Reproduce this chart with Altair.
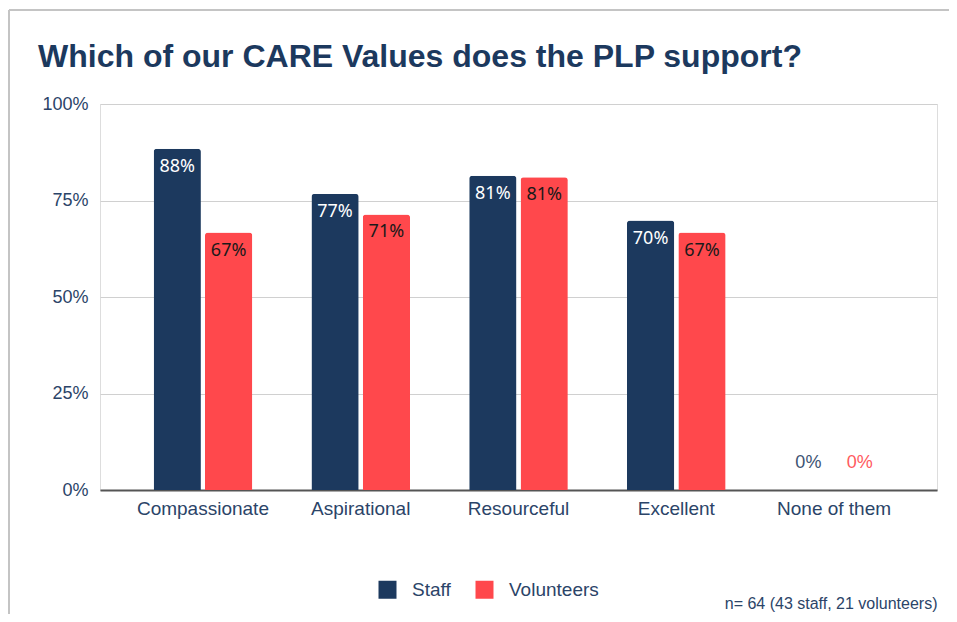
import altair as alt
import pandas as pd

categories = ["Compassionate", "Aspirational", "Resourceful", "Excellent", "None of them"]
series = ["Staff", "Volunteers"]
staff = [0.884, 0.767, 0.814, 0.698, 0.0]
volunteers = [0.667, 0.714, 0.810, 0.667, 0.0]
y_ticks = [0, 0.25, 0.5, 0.75, 1.0]
colors = ["#1c395e", "#ff484c"]
title_text = "Which of our CARE Values does the PLP support?"
footnote = "n= 64 (43 staff, 21 volunteers)"

rows = []
for c, s, v in zip(categories, staff, volunteers):
    rows.append({"category": c, "series": "Staff", "value": s})
    rows.append({"category": c, "series": "Volunteers", "value": v})
df = pd.DataFrame(rows)

NAVY = "#2b4468"
FONT = "Liberation Sans"

x_enc = alt.X(
    "category:N",
    sort=categories,
    scale=alt.Scale(paddingInner=0.375, paddingOuter=0.34),
    axis=alt.Axis(
        title=footnote,
        labelAngle=0,
        labelFontSize=19,
        labelColor=NAVY,
        labelFont=FONT,
        labelPadding=9,
        ticks=False,
        domainColor="#555555",
        domainWidth=2,
        titleX=837,
        titleY=118,
        titleAlign="right",
        titleAnchor="end",
        titleBaseline="alphabetic",
        titleFontSize=16,
        titleFontWeight="normal",
        titleColor=NAVY,
        titleFont=FONT,
    ),
)
xoff = alt.XOffset("series:N", sort=series, scale=alt.Scale(paddingInner=0.08, paddingOuter=0))
y_enc = alt.Y(
    "value:Q",
    scale=alt.Scale(domain=[0, 1]),
    axis=alt.Axis(
        title=None,
        values=y_ticks,
        format=".0%",
        labelFontSize=18,
        labelColor=NAVY,
        labelFont=FONT,
        labelPadding=12,
        ticks=False,
        domain=False,
        gridColor="#d0d0d0",
        gridWidth=1,
    ),
)

bars = alt.Chart(df).mark_bar(cornerRadiusTopLeft=3, cornerRadiusTopRight=3).encode(
    x=x_enc,
    xOffset=xoff,
    y=y_enc,
    color=alt.Color(
        "series:N",
        sort=series,
        scale=alt.Scale(domain=series, range=colors),
        legend=alt.Legend(
            title=None,
            orient="none",
            legendX=278,
            legendY=476,
            direction="horizontal",
            symbolType="square",
            symbolSize=324,
            symbolStrokeWidth=0,
            symbolOpacity=1,
            labelFontSize=19,
            labelColor=NAVY,
            labelFont=FONT,
            labelOffset=15,
            columnPadding=24,
        ),
    ),
)

inside = alt.Chart(df).transform_filter("datum.value > 0").mark_text(
    baseline="top", dy=9, fontSize=18, font="Noto Sans"
).encode(
    x=alt.X("category:N", sort=categories),
    xOffset=alt.XOffset("series:N", sort=series),
    y="value:Q",
    text=alt.Text("value:Q", format=".0%"),
    color=alt.condition("datum.series == 'Staff'", alt.value("#ffffff"), alt.value("#1a1a1a")),
)

zeros = alt.Chart(df).transform_filter("datum.value == 0").mark_text(
    baseline="alphabetic", dy=-22, fontSize=18, font=FONT
).encode(
    x=alt.X("category:N", sort=categories),
    xOffset=alt.XOffset("series:N", sort=series),
    y="value:Q",
    text=alt.Text("value:Q", format=".0%"),
    color=alt.condition("datum.series == 'Staff'", alt.value("#3d5373"), alt.value("#ff5a5e")),
)

frame_df = pd.DataFrame({"a": [0]})
frame_top = alt.Chart(frame_df).mark_rule(color="#c4c4c4", strokeWidth=2).encode(
    x=alt.value(-91), x2=alt.value(860), y=alt.value(-94)
)
frame_left = alt.Chart(frame_df).mark_rule(color="#c4c4c4", strokeWidth=2).encode(
    x=alt.value(-91), y=alt.value(-94), y2=alt.value(530)
)

chart = alt.layer(frame_top, frame_left, bars, inside, zeros).properties(
    width=837,
    height=386,
    autosize=alt.AutoSizeParams(type="none"),
    padding={"left": 92, "top": 96, "right": 12, "bottom": 124},
    title=alt.TitleParams(
        title_text,
        anchor="start",
        frame="group",
        dx=-62,
        dy=118,
        offset=28,
        baseline="alphabetic",
        fontSize=32,
        font=FONT,
        fontWeight="bold",
        color="#1c395e",
    ),
).configure_view(stroke=None).configure(background="white")

chart.save("out.html", embed_options={"renderer": "svg", "actions": False})
